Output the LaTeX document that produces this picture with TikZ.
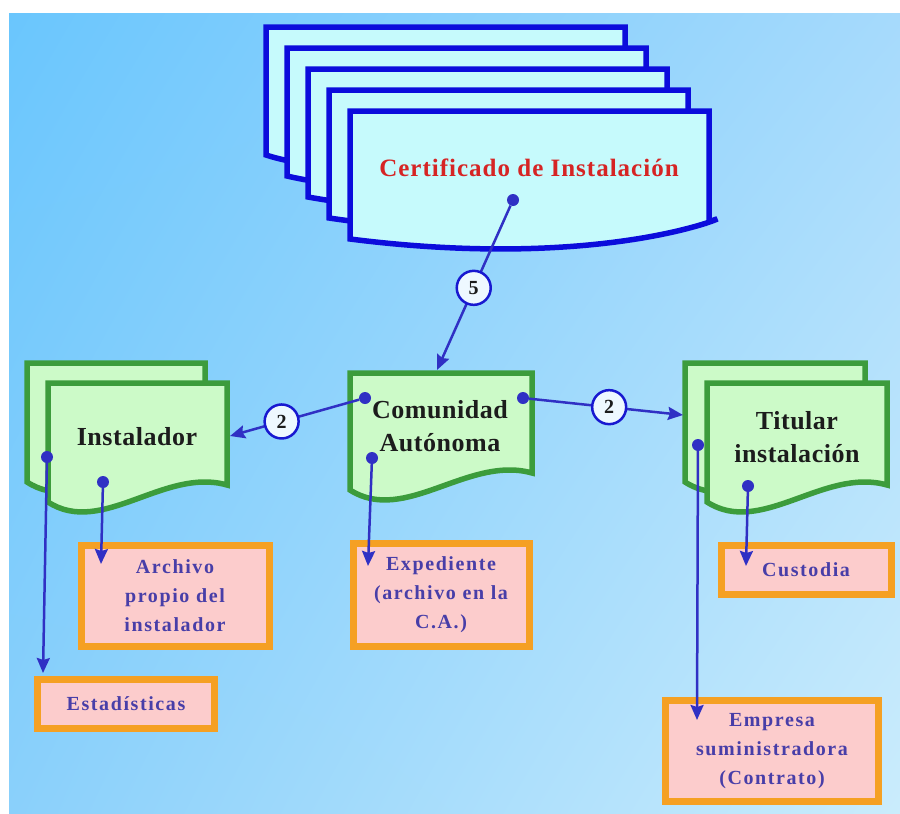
\documentclass[tikz,border=0pt]{standalone}
\usepackage{fontspec}
\setmainfont{Liberation Serif}
\newfontfamily\certfam[LetterSpace=4]{Liberation Serif}
\newfontfamily\titlefam[LetterSpace=2]{Liberation Serif}
\newfontfamily\boxfam[LetterSpace=8]{Liberation Serif}
\usetikzlibrary{arrows.meta,shadings}

\definecolor{bgul}{RGB}{106,198,253}
\definecolor{bgur}{RGB}{166,218,252}
\definecolor{bgll}{RGB}{138,208,251}
\definecolor{bglr}{RGB}{202,236,252}
\definecolor{certblue}{RGB}{12,12,220}
\definecolor{certfill}{RGB}{198,250,252}
\definecolor{certred}{RGB}{214,36,36}
\definecolor{sheetgreen}{RGB}{60,156,60}
\definecolor{sheetfill}{RGB}{204,250,200}
\definecolor{titletext}{RGB}{28,28,28}
\definecolor{boxorange}{RGB}{245,160,35}
\definecolor{boxpink}{RGB}{252,204,204}
\definecolor{boxtext}{RGB}{72,62,168}
\definecolor{linkblue}{RGB}{48,48,196}
\definecolor{numblue}{RGB}{24,24,208}
\definecolor{numfill}{RGB}{238,248,255}

\newcommand{\certfont}{\certfam\bfseries\fontsize{25}{30}\selectfont}
\newcommand{\titlefont}{\titlefam\bfseries\fontsize{26}{33}\selectfont}
\newcommand{\pinkfont}{\boxfam\bfseries\fontsize{20}{29}\selectfont}
\newcommand{\numfont}{\bfseries\fontsize{20}{20}\selectfont}

% one sheet with a wavy bottom: style, left, top, right, bottom
\newcommand{\docsheet}[5]{\draw[#1] (#2,#3) -- (#4,#3) -- (#4,#5-17)
  .. controls (#2+0.65*#4-0.65*#2,#5-35) and (#2+0.3*#4-0.3*#2,#5+35) .. (#2,#5) -- cycle;}

\tikzset{certsheet/.style={draw=certblue,fill=certfill,line width=5.5pt,miter limit=2}}
\tikzset{greensheet/.style={draw=sheetgreen,fill=sheetfill,line width=5.5pt,miter limit=2}}
\tikzset{title/.style={align=center,text=titletext,font=\titlefont,inner sep=0pt}}
\tikzset{pinkbox/.style={draw=boxorange,fill=boxpink,line width=7pt,inner sep=0pt,
  align=center,text=boxtext,font=\pinkfont}}
\tikzset{dot/.style={circle,fill=linkblue,inner sep=0pt,minimum size=12pt}}
\tikzset{link/.style={-{Stealth[length=15pt,width=13pt,inset=2pt]},line width=2.5pt,draw=linkblue}}
\tikzset{num/.style={circle,draw=numblue,fill=numfill,line width=2.5pt,
  minimum size=34pt,inner sep=0pt,text=titletext,font=\numfont}}

\begin{document}
\begin{tikzpicture}[x=1pt,y=-1pt]
        \useasboundingbox (0,0) rectangle (900,814);
        % draw the background
        \shade[upper left=bgul,upper right=bgur,lower left=bgll,lower right=bglr]
          (9,13) rectangle (900,814);

        % draw the pile of certificates
        \foreach \i in {0,...,4}
          \docsheet{certsheet}{266+21*\i}{27+21*\i}{625+21*\i}{155+21*\i};
        \node [text=certred,font=\certfont] (cert) at (529,168) {Certificado de Instalación};

        % draw the three receivers
        \docsheet{greensheet}{27}{363}{205}{482}
        \docsheet{greensheet}{48}{383}{227}{502}
        \node [title] (inst) at (137,437) {Instalador};
        \docsheet{greensheet}{350}{373}{532}{490}
        \node [title] (ca) at (440,426) {Comunidad\\Autónoma};
        \docsheet{greensheet}{685}{363}{865}{482}
        \docsheet{greensheet}{707}{383}{887}{502}
        \node [title] (tit) at (797,437) {Titular\\instalación};

        % draw the archives
        \node [pinkbox,minimum width=188pt,minimum height=101pt] (arch) at (175,596)
          {Archivo\\propio del\\instalador};
        \node [pinkbox,minimum width=177pt,minimum height=49pt] (stat) at (126,704)
          {Estadísticas};
        \node [pinkbox,minimum width=176pt,minimum height=103pt] (exped) at (441,595)
          {Expediente\\(archivo en la\\C.A.)};
        \node [pinkbox,minimum width=170pt,minimum height=49pt] (cust) at (806,570)
          {Custodia};
        \node [pinkbox,minimum width=213pt,minimum height=101pt] (empr) at (772,751)
          {Empresa\\suministradora\\(Contrato)};

        % the dots where the copies leave
        \node [dot] (certdot) at (513,200) {};
        \node [dot] (cadotl) at (365,398) {};
        \node [dot] (cadotr) at (523,398) {};
        \node [dot] (cadotd) at (372,458) {};
        \node [dot] (instdota) at (47,457) {};
        \node [dot] (instdotb) at (103,482) {};
        \node [dot] (titdota) at (698,445) {};
        \node [dot] (titdotb) at (748,486) {};

        % the arrow tips
        \coordinate (catop) at (437,370);
        \coordinate (instin) at (230,436);
        \coordinate (titin) at (683,415);
        \coordinate (statin) at (43,673);
        \coordinate (archin) at (101,564);
        \coordinate (expedin) at (368,566);
        \coordinate (custin) at (746,566);
        \coordinate (emprin) at (697,720);

        \draw[link] (certdot) -- node [num,pos=0.5] {5} (catop);
        \draw[link] (cadotl) -- node [num,pos=0.6] {2} (instin);
        \draw[link] (cadotr) -- node [num,pos=0.52] {2} (titin);
        \draw[link] (instdota) -- (statin);
        \draw[link] (instdotb) -- (archin);
        \draw[link] (cadotd) -- (expedin);
        \draw[link] (titdotb) -- (custin);
        \draw[link] (titdota) -- (emprin);
    \end{tikzpicture}
\end{document}
